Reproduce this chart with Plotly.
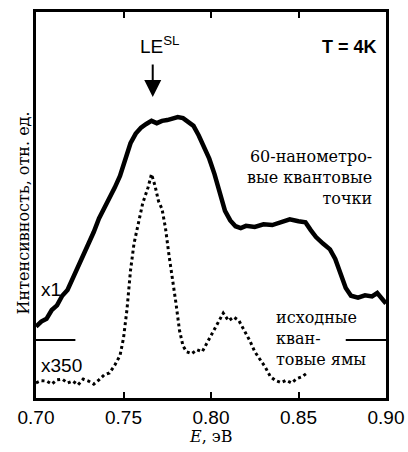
import plotly.graph_objects as go

# спектр 60-нм квантовых точек (x1), отн. ед.
dots_energy = [0.700, 0.703, 0.706, 0.709, 0.712, 0.715, 0.718, 0.721, 0.724, 0.727,
               0.730, 0.733, 0.736, 0.739, 0.742, 0.745, 0.748, 0.751, 0.754, 0.757,
               0.760, 0.763, 0.766, 0.769, 0.772, 0.775, 0.778, 0.781, 0.784, 0.787,
               0.790, 0.793, 0.796, 0.799, 0.802, 0.805, 0.808, 0.811, 0.814, 0.817,
               0.820, 0.825, 0.830, 0.835, 0.840, 0.845, 0.850, 0.854, 0.857, 0.860,
               0.864, 0.868, 0.871, 0.874, 0.877, 0.880, 0.884, 0.888, 0.892, 0.895,
               0.898, 0.900]
dots_intensity = [18.5, 19.8, 20.5, 22.8, 24.0, 26.5, 28.0, 31.0, 33.8, 36.5,
                  39.5, 43.0, 46.5, 49.0, 52.0, 54.5, 57.5, 61.5, 66.0, 68.5,
                  70.0, 71.0, 71.8, 71.2, 71.8, 72.0, 72.3, 72.8, 72.5, 71.6,
                  70.5, 68.0, 65.0, 62.0, 58.0, 53.0, 48.5, 46.0, 44.5, 44.0,
                  44.6, 44.3, 45.0, 44.8, 45.5, 46.3, 45.8, 45.5, 43.5, 41.7,
                  40.0, 38.5, 36.0, 32.5, 28.5, 26.5, 26.0, 26.6, 26.3, 27.2,
                  25.5, 24.5]

# спектр исходных квантовых ям (x350)
wells_energy = [0.700, 0.703, 0.706, 0.709, 0.712, 0.715, 0.718, 0.721, 0.724, 0.727,
                0.730, 0.733, 0.736, 0.739, 0.742, 0.745, 0.748, 0.750, 0.752, 0.754,
                0.756, 0.758, 0.761, 0.764, 0.766, 0.768, 0.770, 0.772, 0.774, 0.776,
                0.778, 0.780, 0.782, 0.784, 0.786, 0.789, 0.792, 0.795, 0.798, 0.801,
                0.804, 0.807, 0.810, 0.813, 0.816, 0.819, 0.822, 0.825, 0.828, 0.831,
                0.834, 0.837, 0.840, 0.843, 0.846, 0.849, 0.852, 0.855]
wells_intensity = [3.9, 4.5, 4.4, 3.6, 4.7, 4.9, 3.9, 4.4, 3.4, 4.9,
                   4.4, 3.6, 4.7, 6.0, 6.5, 8.5, 11.0, 15.5, 23.0, 33.0,
                   40.0, 44.0, 50.5, 54.5, 58.0, 55.0, 51.0, 49.0, 44.0, 37.0,
                   31.0, 24.5, 17.5, 13.5, 12.0, 11.5, 12.5, 12.0, 14.5, 17.0,
                   19.5, 22.0, 20.0, 21.0, 20.0, 17.5, 15.0, 12.0, 10.0, 8.0,
                   5.5, 4.5, 4.0, 4.6, 3.9, 5.0, 5.5, 6.5]

# нулевой уровень кривой x1 (отрезки у краёв)
zero_left_x = [0.700, 0.7225]
zero_right_x = [0.877, 0.900]
zero_level = 15.0

x_ticks = [0.70, 0.75, 0.80, 0.85, 0.90]
le_sl = 0.7667

serif = "DejaVu Serif, serif"
sans = "Liberation Sans, Arial, sans-serif"

fig = go.Figure()
fig.add_trace(go.Scatter(x=dots_energy, y=dots_intensity, mode='lines',
                         line=dict(color='black', width=4.5)))
fig.add_trace(go.Scatter(x=wells_energy, y=wells_intensity, mode='lines',
                         line=dict(color='black', width=3, dash='dot')))
for xs in (zero_left_x, zero_right_x):
    fig.add_trace(go.Scatter(x=xs, y=[zero_level] * 2, mode='lines',
                             line=dict(color='black', width=2)))

fig.add_annotation(x=le_sl, y=78, ax=le_sl, ay=89, xref='x', yref='y', axref='x', ayref='y',
                   showarrow=True, arrowhead=2, arrowsize=1.7, arrowwidth=2, arrowcolor='black', text=' ')
fig.add_annotation(x=0.7710, y=91.5, text='LE<sup>SL</sup>', showarrow=False,
                   font=dict(family=sans, size=19, color='black'))
fig.add_annotation(x=0.8960, y=91, text='<b>T = 4K</b>', showarrow=False, xanchor='right',
                   font=dict(family=sans, size=18, color='black'))
fig.add_annotation(x=0.8930, y=57, text='60-нанометро-<br>вые квантовые<br>точки',
                   showarrow=False, xanchor='right', yanchor='middle', align='right',
                   font=dict(family=serif, size=16, color='black'))
fig.add_annotation(x=0.8360, y=15.3, text='исходные<br>кван-<br>товые ямы',
                   showarrow=False, xanchor='left', yanchor='middle', align='left',
                   font=dict(family=serif, size=16, color='black'))
fig.add_annotation(x=0.7015, y=28, text='x1', showarrow=False, xanchor='left',
                   font=dict(family=sans, size=19, color='black'))
fig.add_annotation(x=0.7015, y=8.3, text='x350', showarrow=False, xanchor='left',
                   font=dict(family=sans, size=19, color='black'))
fig.add_annotation(x=-0.068, y=0.48, xref='paper', yref='paper', text='Интенсивность, отн. ед.',
                   textangle=-90, showarrow=False,
                   font=dict(family=serif, size=16, color='black'))
fig.add_annotation(x=0.5, y=-0.101, xref='paper', yref='paper', text='<i>E</i>, эВ',
                   showarrow=False, yanchor='middle',
                   font=dict(family=serif, size=16, color='black'))

fig.update_layout(
    width=408, height=452,
    margin=dict(l=36, r=22, t=12, b=54),
    plot_bgcolor='white', paper_bgcolor='white',
    showlegend=False,
    xaxis=dict(range=[0.70, 0.90], tickvals=x_ticks, ticktext=['%.2f' % t for t in x_ticks],
               ticks='inside', ticklen=6, tickwidth=2, tickcolor='black',
               showline=True, linecolor='black', linewidth=3, mirror='ticks',
               showgrid=False, zeroline=False, automargin=False,
               tickfont=dict(family=sans, size=19, color='black')),
    yaxis=dict(range=[0, 100], showticklabels=False, ticks='',
               showline=True, linecolor='black', linewidth=3, mirror=True,
               showgrid=False, zeroline=False, automargin=False),
)

fig.write_html("out.html", config={'displayModeBar': False},
               post_script="document.body.style.margin='0';")
